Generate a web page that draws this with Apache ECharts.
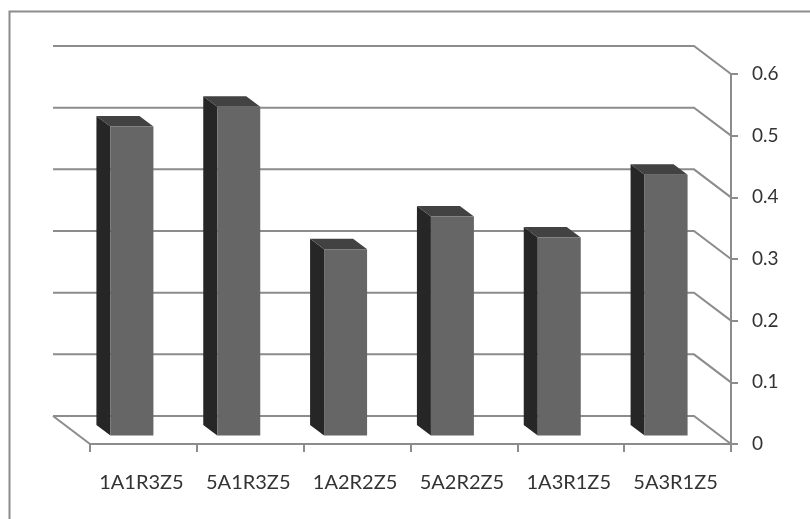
<!DOCTYPE html>
<html>
<head>
<meta charset="utf-8">
<style>html,body{margin:0;padding:0;background:#fff}#chart{width:810px;height:519px}</style>
<script src="https://cdn.jsdelivr.net/npm/echarts@6/dist/echarts.min.js"></script>
</head>
<body>
<div id="chart"></div>
<script>
// Specimen codes and their measured values
const categories = ['1A1R3Z5', '5A1R3Z5', '1A2R2Z5', '5A2R2Z5', '1A3R1Z5', '5A3R1Z5'];
const values = [0.501, 0.533, 0.302, 0.355, 0.321, 0.423];
const gridValues = [0, 0.1, 0.2, 0.3, 0.4, 0.5, 0.6];

// Oblique projection offsets, in pixels, for the faux-3D look
const wallDepth = [-37, -28];
const barFront = [-11.5, -8.5];
const barDepth = [-14, -10.5];
const barWidth = 43;

const lineGray = '#8c8c8c';
const chart = echarts.init(document.getElementById('chart'), null, { renderer: 'canvas' });

// Back wall gridlines with their diagonal returns to the value axis
function renderWall(params, api) {
  const cs = params.coordSys;
  const p = api.coord([0, api.value(0)]);
  const y = p[1];
  const right = cs.x + cs.width;
  const children = [{
    type: 'polyline',
    shape: { points: [[cs.x + wallDepth[0], y + wallDepth[1]], [right + wallDepth[0], y + wallDepth[1]], [right, y]] },
    style: { fill: null, stroke: lineGray, lineWidth: 2 }
  }];
  if (api.value(0) === 0) {
    children.push({
      type: 'line',
      shape: { x1: cs.x + wallDepth[0], y1: y + wallDepth[1], x2: cs.x, y2: y },
      style: { stroke: lineGray, lineWidth: 2 }
    });
  }
  return { type: 'group', children };
}

// Each column: side, top and front faces
function renderBar(params, api) {
  const base = api.coord([api.value(0), 0]);
  const top = api.coord([api.value(0), api.value(1)]);
  const x0 = base[0] + barFront[0] - barWidth / 2;
  const x1 = x0 + barWidth;
  const yb = base[1] + barFront[1];
  const yt = top[1] + barFront[1];
  const dx = barDepth[0], dy = barDepth[1];
  return {
    type: 'group',
    children: [
      { type: 'polygon', shape: { points: [[x0, yb], [x0, yt], [x0 + dx, yt + dy], [x0 + dx, yb + dy]] }, style: { fill: '#262626' } },
      { type: 'polygon', shape: { points: [[x0, yt], [x1, yt], [x1 + dx, yt + dy], [x0 + dx, yt + dy]] }, style: { fill: '#424242' } },
      { type: 'rect', shape: { x: x0, y: yt, width: barWidth, height: yb - yt }, style: { fill: '#666666' } }
    ]
  };
}

chart.setOption({
  animation: false,
  backgroundColor: '#ffffff',
  graphic: [
    { type: 'polyline', silent: true, shape: { points: [[9.5, 519], [9.5, 11.5], [810, 11.5]] }, style: { fill: null, stroke: lineGray, lineWidth: 2 } }
  ],
  grid: { left: 90, right: 79, top: 74, height: 370 },
  xAxis: {
    type: 'category',
    data: categories,
    boundaryGap: true,
    axisLine: { show: true, lineStyle: { color: lineGray, width: 2 } },
    axisTick: { show: true, length: 8, interval: 0, alignWithLabel: false, lineStyle: { color: lineGray, width: 2 } },
    axisLabel: { color: '#333333', fontFamily: 'Lato', fontSize: 20, margin: 29, interval: 0, hideOverlap: false, padding: [0, 4, 0, 0] },
    splitLine: { show: false }
  },
  yAxis: {
    type: 'value',
    position: 'right',
    min: 0,
    max: 0.6,
    interval: 0.1,
    axisLine: { show: true, lineStyle: { color: lineGray, width: 2 } },
    axisTick: { show: true, length: 7, lineStyle: { color: lineGray, width: 2 } },
    axisLabel: { color: '#333333', fontFamily: 'Lato', fontSize: 19, margin: 21, padding: [12, 0, 0, 0] },
    splitLine: { show: false }
  },
  series: [
    { type: 'custom', name: 'wall', silent: true, renderItem: renderWall, encode: { y: 0 }, data: gridValues.map(v => [v]), clip: false, z: 1 },
    { type: 'custom', name: 'bars', silent: true, renderItem: renderBar, encode: { x: 0, y: 1 }, data: categories.map((c, i) => [i, values[i]]), clip: false, z: 2 }
  ]
});
</script>
</body>
</html>
